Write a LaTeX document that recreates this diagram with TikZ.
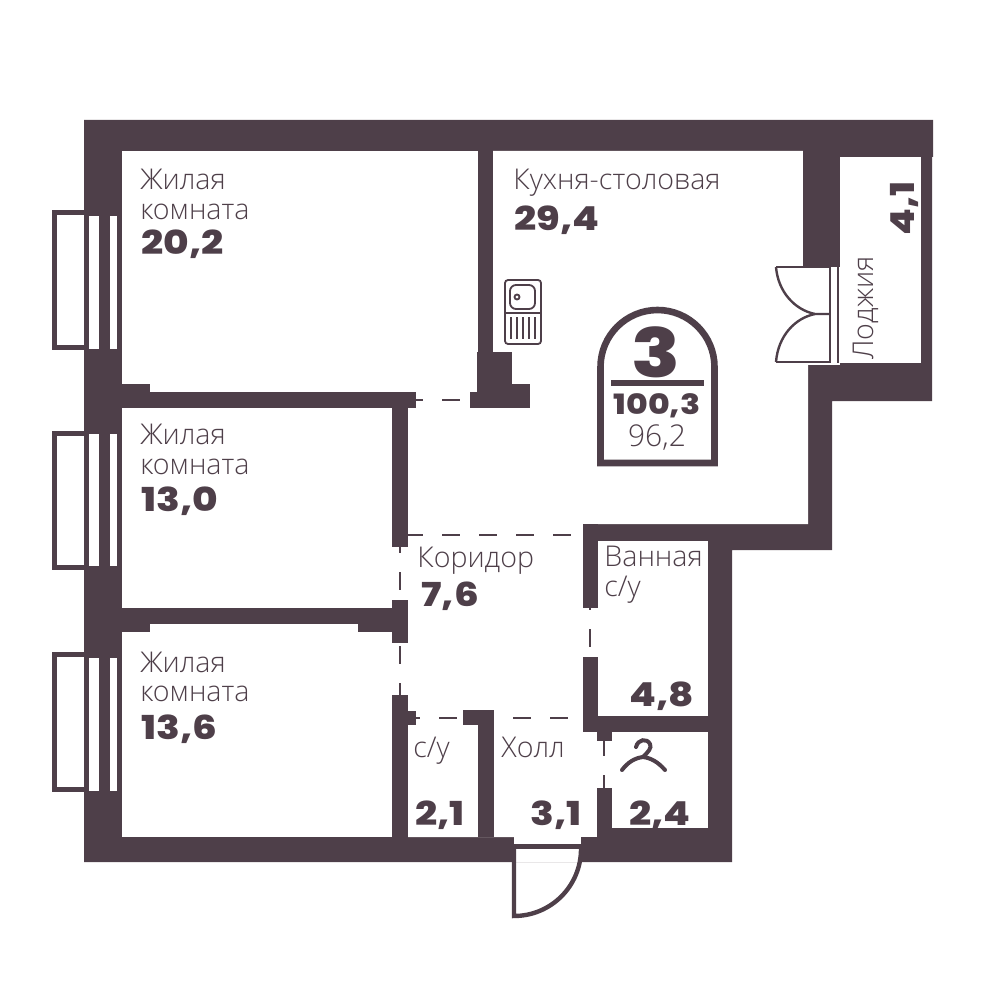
\documentclass[tikz,border=0pt]{standalone}
\usepackage{fontspec}
\setsansfont{Open Sans Light}
\newfontfamily\numfont[FakeStretch=1.18]{Poppins ExtraBold}
\usetikzlibrary{positioning}
\definecolor{wallC}{HTML}{4E3F49}

\tikzset{
  wall/.style={fill=wallC,draw=none},
  room/.style={fill=white,draw=none},
  thinL/.style={draw=wallC,line width=1.5pt},
  doorL/.style={draw=wallC,line width=1pt,dash pattern=on 9pt off 9.5pt},
  nameT/.style={text=wallC,inner sep=0pt,anchor=base west,align=left,font=\sffamily\fontsize{14.3}{15}\selectfont},
  areaT/.style={text=wallC,inner sep=0pt,anchor=base west,font=\numfont\fontsize{16.5}{18}\selectfont}
}

\begin{document}
\begin{tikzpicture}[x=0.5pt,y=-0.5pt]
  \useasboundingbox (0,0) rectangle (999,1000);

  % outer walls
  \fill[wall] (84,120) -- (933,120) -- (933,157) -- (932,157) -- (932,401) -- (832,401) -- (832,550)
    -- (732,550) -- (732,862) -- (84,862) -- cycle;

  % rooms
  \fill[room] (122,151) rectangle (478,392);
  \fill[room] (122,408) rectangle (392,608);
  \fill[room] (122,632) rectangle (392,837);
  \fill[room] (150,624) rectangle (358,632);
  \fill[room] (840,157) rectangle (921,363);
  \fill[room] (493,151) -- (803,151) -- (803,267) -- (838,267) -- (838,363) -- (808,363) -- (808,524)
    -- (583,524) -- (583,837) -- (597,837) -- (597,844) -- (514,844) -- (514,837) -- (408,837)
    -- (408,408) -- (493,408) -- cycle;
  \fill[room] (416,392) rectangle (470,408);
  \fill[room] (392,547) rectangle (408,600);
  \fill[room] (392,643) rectangle (408,695);
  \fill[room] (598,541) rectangle (708,716);
  \fill[room] (583,608) rectangle (598,657);
  \fill[room] (583,732) rectangle (597,837);
  \fill[room] (597,732) rectangle (708,828);
  \fill[room] (514,849) rectangle (581,862);

  % inner walls
  \fill[wall] (122,392) rectangle (416,408);
  \fill[wall] (122,384) rectangle (150,392);
  \fill[wall] (392,408) rectangle (408,547);
  \fill[wall] (122,608) rectangle (392,624);
  \fill[wall] (122,624) rectangle (150,632);
  \fill[wall] (358,624) rectangle (392,632);
  \fill[wall] (392,600) rectangle (408,643);
  \fill[wall] (392,695) rectangle (408,837);
  \fill[wall] (408,711) rectangle (416,725);
  \fill[wall] (478,151) rectangle (493,352);
  \fill[wall] (477,352) rectangle (512,384);
  \fill[wall] (477,384) rectangle (530,392);
  \fill[wall] (470,392) rectangle (530,408);
  \fill[wall] (478,710) rectangle (494,837);
  \fill[wall] (463,710) rectangle (478,725);
  \fill[wall] (583,524) rectangle (598,608);
  \fill[wall] (583,657) rectangle (598,716);
  \fill[wall] (583,716) rectangle (708,732);
  \fill[wall] (597,732) rectangle (612,741);
  \fill[wall] (597,788) rectangle (612,837);
  \fill[wall] (581,837) rectangle (612,849);
  \fill[wall] (514,844) rectangle (581,849);

  % windows
  \foreach \wtop/\wbot/\stop/\sbot in {210/350/216/349, 431/570/434/566, 652/792/658/791}{
    \fill[wall] (52,\wtop) rectangle (84,\wbot);
    \fill[room] (57,\wtop+5) rectangle (84,\wbot-5);
    \fill[room] (89,\stop) rectangle (99,\sbot);
    \fill[room] (110,\stop) rectangle (117,\sbot);
  }

  % door openings
  \coordinate (kA) at (416,400);
  \coordinate (kB) at (470,400);
  \draw[doorL,dash phase=5.5pt] (kA) -- (kB);
  \coordinate (cA) at (408,535);
  \coordinate (cB) at (583,535);
  \draw[doorL,dash phase=1.5pt] (cA) -- (cB);
  \coordinate (lA) at (400,547);
  \coordinate (lB) at (400,600);
  \draw[doorL,dash phase=6pt] (lA) -- (lB);
  \coordinate (mA) at (400,643);
  \coordinate (mB) at (400,695);
  \draw[doorL,dash phase=17pt] (mA) -- (mB);
  \coordinate (hA) at (416,718);
  \coordinate (hB) at (463,718);
  \draw[doorL,dash phase=7pt] (hA) -- (hB);
  \coordinate (hC) at (494,718);
  \coordinate (hD) at (583,718);
  \draw[doorL,dash phase=9pt] (hC) -- (hD);
  \coordinate (bA) at (590,608);
  \coordinate (bB) at (590,657);
  \draw[doorL,dash phase=8pt] (bA) -- (bB);
  \coordinate (wA) at (604,741);
  \coordinate (wB) at (604,788);
  \draw[doorL,dash phase=1.5pt] (wA) -- (wB);

  % balcony door
  \fill[room] (775,265) rectangle (840,365);
  \fill[wall] (803,120) rectangle (840,267);
  \draw[thinL,line width=1.2pt] (838,267) -- (838,363);
  \draw[thinL,line width=1.2pt] (776,267) -- (830,267) -- (830,362) -- (776,362);
  \draw[thinL,line width=1.2pt] (776,267) .. controls (778,292) and (795,310) .. (815,314) -- (830,314);
  \draw[thinL,line width=1.2pt] (776,362) .. controls (778,336) and (795,318) .. (815,314);

  % entrance door
  \coordinate (eA) at (581,849);
  \coordinate (eB) at (514,916);
  \draw[thinL,line width=2.2pt] (eA) arc[start angle=0,end angle=90,radius=67] -- (514,849);

  % sink
  \draw[thinL,line width=0.9pt,rounded corners=1.5pt] (505,280) rectangle (541,344);
  \draw[thinL,line width=0.9pt] (505,313) -- (541,313);
  \draw[thinL,line width=0.9pt,rounded corners=3pt] (510,285) rectangle (535,309);
  \draw[thinL,line width=0.9pt] (517,297) circle[radius=2.5];
  \foreach \dx in {511,517,523,529,535}{
    \draw[thinL,line width=0.9pt] (\dx,317) -- (\dx,339);
  }

  % hanger
  \draw[thinL,line width=2pt,line cap=round] (622,770) .. controls (628,762) and (635,758) .. (643,757)
    .. controls (651,758) and (658,762) .. (665,770);
  \draw[thinL,line width=2pt,line cap=round] (643,757) .. controls (648,752) and (652,748) .. (650,744)
    .. controls (647,738) and (638,739) .. (636,747);

  % badge
  \draw[thinL,line width=3.3pt] (600.5,463) -- (600.5,367) arc[start angle=180,end angle=360,radius=57] -- (714.5,463) -- cycle;
  \fill[wall] (611,380) rectangle (704,386);
  \node[text=wallC,inner sep=0pt,font=\numfont\fontsize{34}{34}\selectfont] (flatN) at (656,352) {3};
  \node[text=wallC,inner sep=0pt,font=\numfont\fontsize{14}{14}\selectfont] (areaA) at (657,406) {100,3};
  \node[text=wallC,inner sep=0pt,font=\sffamily\fontsize{15}{15}\selectfont] (areaB) at (657,438) {96,2};

  % labels
  \node[nameT] (roomA) at (140,190) {Жилая};
  \node[nameT] (roomAb) at (140,220) {комната};
  \node[areaT] (roomAn) at (141,255) {20,2};
  \node[nameT] (roomB) at (140,444) {Жилая};
  \node[nameT] (roomBb) at (140,474) {комната};
  \node[areaT] (roomBn) at (141,511) {13,0};
  \node[nameT] (roomC) at (140,672) {Жилая};
  \node[nameT] (roomCb) at (140,701) {комната};
  \node[areaT] (roomCn) at (141,739) {13,6};
  \node[nameT] (kitchen) at (513,190) {Кухня-столовая};
  \node[areaT] (kitchenN) at (514,231) {29,4};
  \node[nameT] (corr) at (417,567) {Коридор};
  \node[areaT] (corrN) at (421,606) {7,6};
  \node[nameT] (bath) at (604,566) {Ванная};
  \node[nameT] (bathB) at (604,596) {с/у};
  \node[areaT] (bathN) at (629,706) {4,8};
  \node[nameT] (wc) at (413,757) {с/у};
  \node[areaT] (wcN) at (415,825) {2,1};
  \node[nameT] (hall) at (501,757) {Холл};
  \node[areaT] (hallN) at (530,825) {3,1};
  \node[areaT] (wardN) at (629,825) {2,4};
  \node[nameT,rotate=90] (logg) at (873,360) {Лоджия};
  \node[areaT,rotate=90] (loggN) at (914,236) {4,1};
\end{tikzpicture}
\end{document}
